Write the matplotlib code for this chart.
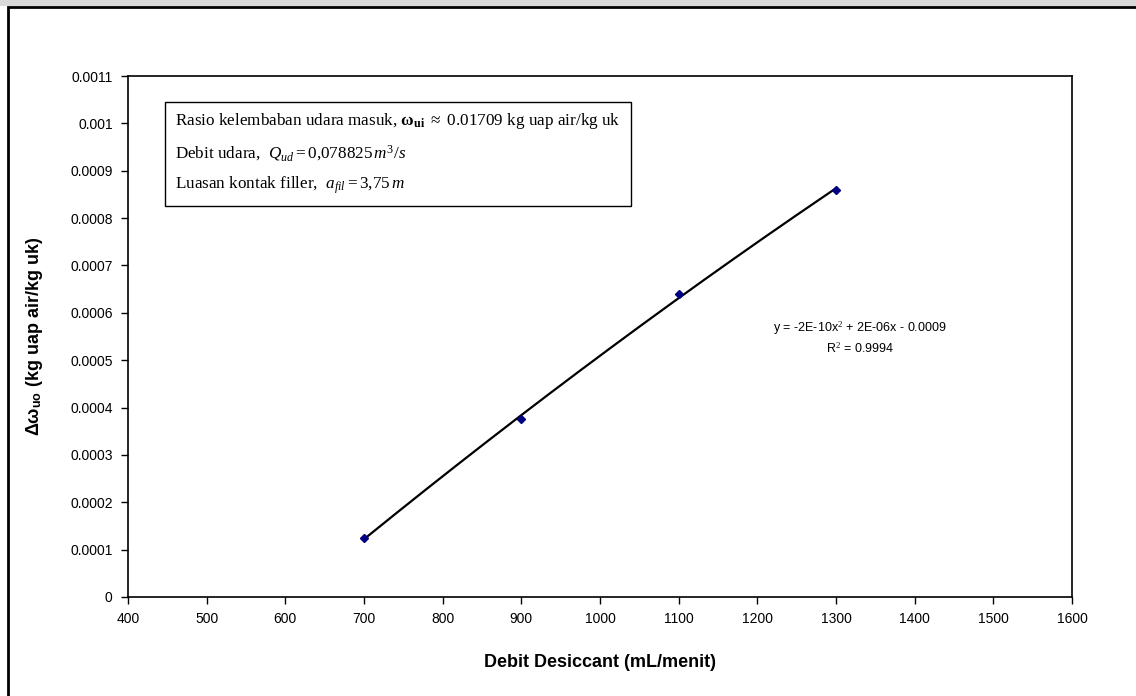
import matplotlib.pyplot as plt
import numpy as np
from matplotlib.patches import Rectangle

# data
debit = [700, 900, 1100, 1300]
delta_w = [0.000125, 0.000375, 0.00064, 0.00086]

x_ticks = [400, 500, 600, 700, 800, 900, 1000, 1100, 1200, 1300, 1400, 1500, 1600]
y_ticks = [0, 0.0001, 0.0002, 0.0003, 0.0004, 0.0005, 0.0006,
           0.0007, 0.0008, 0.0009, 0.001, 0.0011]
y_labels = ["0", "0.0001", "0.0002", "0.0003", "0.0004", "0.0005", "0.0006",
            "0.0007", "0.0008", "0.0009", "0.001", "0.0011"]

eq_text = "y = -2E-10x$^2$ + 2E-06x - 0.0009\nR$^2$ = 0.9994"

plt.rcParams["mathtext.fontset"] = "custom"
plt.rcParams["mathtext.rm"] = "Liberation Serif"
plt.rcParams["mathtext.it"] = "Liberation Serif:italic"
plt.rcParams["mathtext.bf"] = "Liberation Serif:bold"
plt.rcParams["mathtext.sf"] = "Liberation Sans:bold"

fig = plt.figure(figsize=(11.36, 6.96), dpi=100)
W, H = 1136, 696

# outer chart frame and grey strip at the top
fig.patches.append(Rectangle((0, 1 - 6 / H), 1, 6 / H, transform=fig.transFigure,
                             facecolor="#d9d9d9", edgecolor="none", zorder=0))
fig.patches.append(Rectangle((8 / W, -0.05), 1.1, 1 - 7 / H + 0.05,
                             transform=fig.transFigure, facecolor="white",
                             edgecolor="black", linewidth=2, zorder=1))

ax = fig.add_axes([128 / W, 1 - 597 / H, (1072 - 128) / W, (597 - 76) / H])
ax.set_zorder(2)

# quadratic trend line through the points
coef = np.polyfit(debit, delta_w, 2)
xs = np.linspace(min(debit), max(debit), 200)
ax.plot(xs, np.polyval(coef, xs), color="black", linewidth=1.6, zorder=2)
ax.plot(debit, delta_w, linestyle="none", marker="D", markersize=4.5,
        color="#000080", zorder=3)

ax.set_xlim(400, 1600)
ax.set_ylim(0, 0.0011)
ax.set_xticks(x_ticks)
ax.set_xticklabels([str(t) for t in x_ticks])
ax.set_yticks(y_ticks)
ax.set_yticklabels(y_labels)
ax.tick_params(direction="out", length=5, width=1, labelsize=10,
               colors="black", pad=6)
for lab in ax.get_xticklabels() + ax.get_yticklabels():
    lab.set_family("Liberation Sans")
for sp in ax.spines.values():
    sp.set_linewidth(1.2)

ax.set_xlabel("Debit Desiccant (mL/menit)", family="Liberation Sans",
              fontweight="bold", fontsize=13, labelpad=20)
ax.set_ylabel("\u0394\u03c9$_{\\mathsf{uo}}$ (kg uap air/kg uk)",
              family="Liberation Sans", fontweight="bold", fontsize=13,
              labelpad=18)

# info box
info = ("Rasio kelembaban udara masuk, $\\mathbf{\\omega_{ui}}$ $\\approx$ 0.01709 kg uap air/kg uk\n"
        "Debit udara,  $Q_{ud}=0{,}078825\\,m^3/s$\n"
        "Luasan kontak filler,  $a_{fil}=3{,}75\\,m$")
ax.text((175 - 128) / (1072 - 128), (597 - 111) / (597 - 76), info,
        transform=ax.transAxes, family="Liberation Serif", fontsize=12.3,
        va="top", ha="left", linespacing=1.8,
        bbox=dict(boxstyle="square,pad=0.6", facecolor="white",
                  edgecolor="black", linewidth=1))

ax.text(1330, 0.000547, eq_text, family="Liberation Sans", fontsize=9,
        ha="center", va="center", linespacing=1.35)

fig.savefig("out.png", dpi=100)
